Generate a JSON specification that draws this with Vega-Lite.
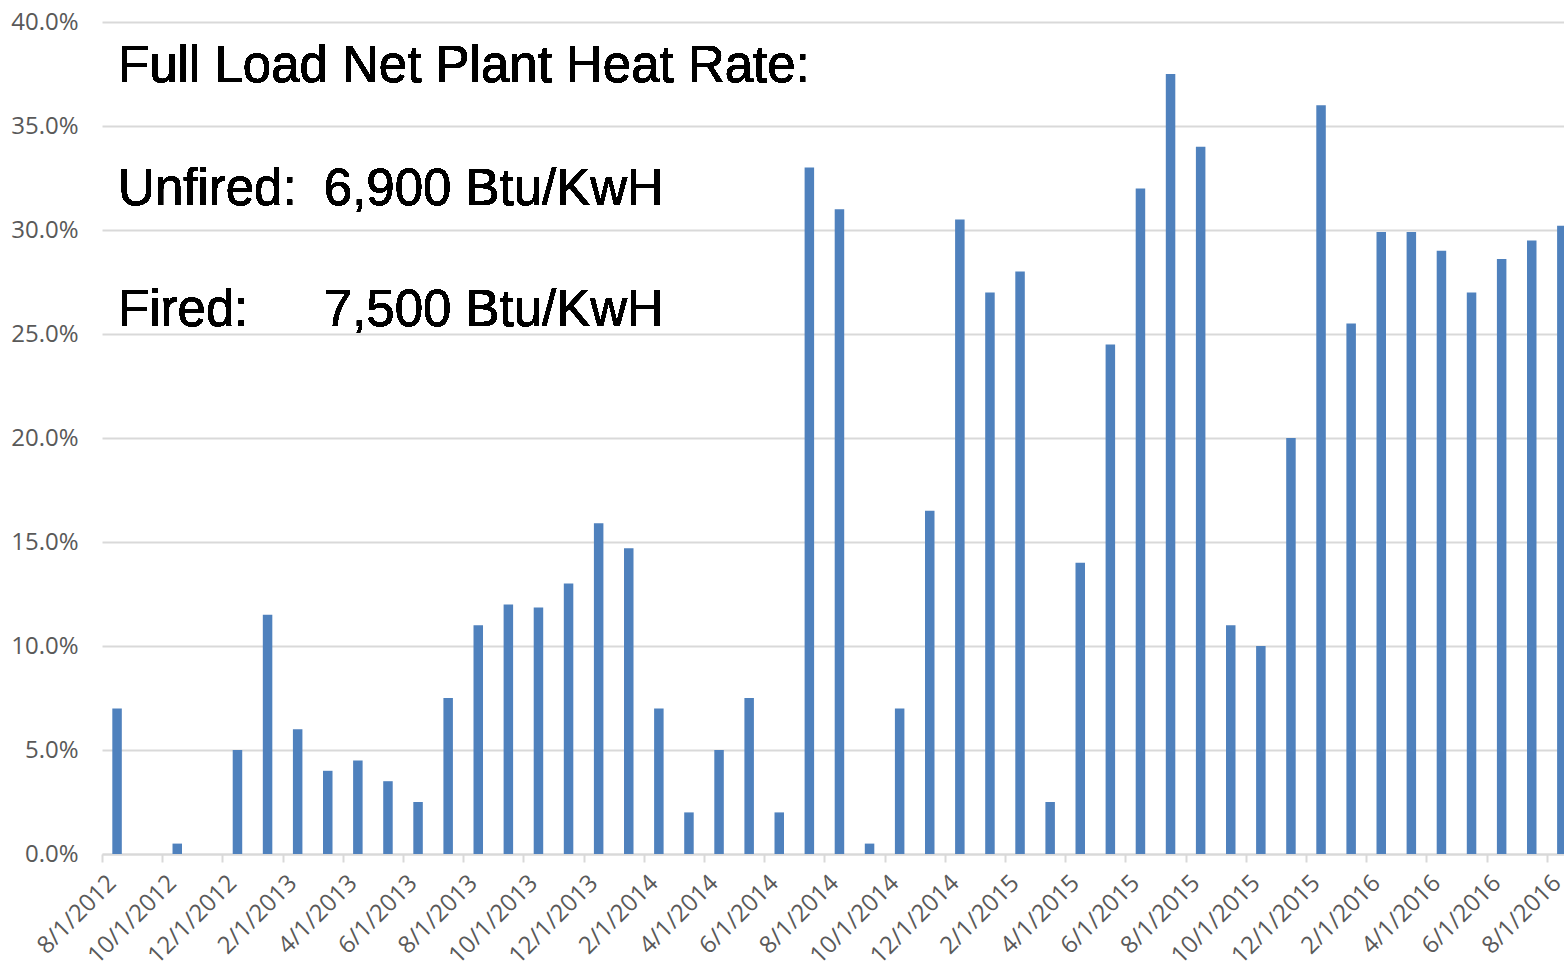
{
  "$schema": "https://vega.github.io/schema/vega-lite/v6.json",
  "autosize": {"type": "none"},
  "padding": {"left": 102, "top": 22, "right": 0, "bottom": 112},
  "width": 1462,
  "height": 832,
  "background": "white",
  "config": {"view": {"stroke": null}},
  "data": {
    "values": [
      {"month": "8/1/2012", "rate": 0.070},
      {"month": "9/1/2012", "rate": 0.0},
      {"month": "10/1/2012", "rate": 0.005},
      {"month": "11/1/2012", "rate": 0.0},
      {"month": "12/1/2012", "rate": 0.050},
      {"month": "1/1/2013", "rate": 0.115},
      {"month": "2/1/2013", "rate": 0.060},
      {"month": "3/1/2013", "rate": 0.040},
      {"month": "4/1/2013", "rate": 0.045},
      {"month": "5/1/2013", "rate": 0.035},
      {"month": "6/1/2013", "rate": 0.025},
      {"month": "7/1/2013", "rate": 0.075},
      {"month": "8/1/2013", "rate": 0.110},
      {"month": "9/1/2013", "rate": 0.120},
      {"month": "10/1/2013", "rate": 0.1185},
      {"month": "11/1/2013", "rate": 0.130},
      {"month": "12/1/2013", "rate": 0.159},
      {"month": "1/1/2014", "rate": 0.147},
      {"month": "2/1/2014", "rate": 0.070},
      {"month": "3/1/2014", "rate": 0.020},
      {"month": "4/1/2014", "rate": 0.050},
      {"month": "5/1/2014", "rate": 0.075},
      {"month": "6/1/2014", "rate": 0.020},
      {"month": "7/1/2014", "rate": 0.330},
      {"month": "8/1/2014", "rate": 0.310},
      {"month": "9/1/2014", "rate": 0.005},
      {"month": "10/1/2014", "rate": 0.070},
      {"month": "11/1/2014", "rate": 0.165},
      {"month": "12/1/2014", "rate": 0.305},
      {"month": "1/1/2015", "rate": 0.270},
      {"month": "2/1/2015", "rate": 0.280},
      {"month": "3/1/2015", "rate": 0.025},
      {"month": "4/1/2015", "rate": 0.140},
      {"month": "5/1/2015", "rate": 0.245},
      {"month": "6/1/2015", "rate": 0.320},
      {"month": "7/1/2015", "rate": 0.375},
      {"month": "8/1/2015", "rate": 0.340},
      {"month": "9/1/2015", "rate": 0.110},
      {"month": "10/1/2015", "rate": 0.100},
      {"month": "11/1/2015", "rate": 0.200},
      {"month": "12/1/2015", "rate": 0.360},
      {"month": "1/1/2016", "rate": 0.255},
      {"month": "2/1/2016", "rate": 0.299},
      {"month": "3/1/2016", "rate": 0.299},
      {"month": "4/1/2016", "rate": 0.290},
      {"month": "5/1/2016", "rate": 0.270},
      {"month": "6/1/2016", "rate": 0.286},
      {"month": "7/1/2016", "rate": 0.295},
      {"month": "8/1/2016", "rate": 0.302}
    ]
  },
  "encoding": {
    "x": {
      "field": "month",
      "type": "ordinal",
      "sort": null,
      "title": null,
      "scale": {"type": "point", "padding": 0.286, "align": 0.875},
      "axis": {
        "values": ["8/1/2012", "10/1/2012", "12/1/2012", "2/1/2013", "4/1/2013", "6/1/2013", "8/1/2013", "10/1/2013", "12/1/2013", "2/1/2014", "4/1/2014", "6/1/2014", "8/1/2014", "10/1/2014", "12/1/2014", "2/1/2015", "4/1/2015", "6/1/2015", "8/1/2015", "10/1/2015", "12/1/2015", "2/1/2016", "4/1/2016", "6/1/2016", "8/1/2016"],
        "grid": false,
        "domain": true,
        "domainColor": "#d9d9d9",
        "domainWidth": 2,
        "ticks": true,
        "tickColor": "#d9d9d9",
        "tickWidth": 2,
        "tickSize": 8,
        "tickOffset": -15.05,
        "labelOffset": 15.05,
        "labelAngle": -45,
        "labelAlign": "right",
        "labelBaseline": "alphabetic",
        "labelPadding": 22,
        "labelFont": "Open Sans",
        "labelFontSize": 24,
        "labelColor": "#595959",
        "labelOverlap": false,
        "labelBound": false,
        "labelFlush": false
      }
    },
    "y": {
      "field": "rate",
      "type": "quantitative",
      "title": null,
      "scale": {"domain": [0, 0.4], "nice": false, "zero": true},
      "axis": {
        "values": [0, 0.05, 0.1, 0.15, 0.2, 0.25, 0.3, 0.35, 0.4],
        "format": ".1%",
        "domain": false,
        "ticks": false,
        "grid": true,
        "gridColor": "#d9d9d9",
        "gridWidth": 2,
        "labelPadding": 24,
        "labelFont": "Open Sans",
        "labelFontSize": 24,
        "labelColor": "#595959",
        "labelBaseline": "middle",
        "labelOverlap": false,
        "labelFlush": false
      }
    }
  },
  "layer": [
    {
      "mark": {"type": "bar", "color": "#4f81bd", "width": 9.5}
    },
    {
      "mark": {"type": "text", "text": "Full Load Net Plant Heat Rate:", "font": "Liberation Sans", "fontSize": 51, "align": "left", "baseline": "alphabetic", "color": "#000000", "dx": 1},
      "encoding": {"x": {"datum": "8/1/2012"}, "y": {"datum": 0.3712}}
    },
    {
      "mark": {"type": "text", "text": "Unfired:", "font": "Liberation Sans", "fontSize": 51, "align": "left", "baseline": "alphabetic", "color": "#000000", "dx": 1},
      "encoding": {"x": {"datum": "8/1/2012"}, "y": {"datum": 0.312}}
    },
    {
      "mark": {"type": "text", "text": "6,900 Btu/KwH", "font": "Liberation Sans", "fontSize": 51, "align": "left", "baseline": "alphabetic", "color": "#000000", "dx": -4},
      "encoding": {"x": {"datum": "3/1/2013"}, "y": {"datum": 0.312}}
    },
    {
      "mark": {"type": "text", "text": "Fired:", "font": "Liberation Sans", "fontSize": 51, "align": "left", "baseline": "alphabetic", "color": "#000000", "dx": 1},
      "encoding": {"x": {"datum": "8/1/2012"}, "y": {"datum": 0.2538}}
    },
    {
      "mark": {"type": "text", "text": "7,500 Btu/KwH", "font": "Liberation Sans", "fontSize": 51, "align": "left", "baseline": "alphabetic", "color": "#000000", "dx": -4},
      "encoding": {"x": {"datum": "3/1/2013"}, "y": {"datum": 0.2538}}
    }
  ]
}
